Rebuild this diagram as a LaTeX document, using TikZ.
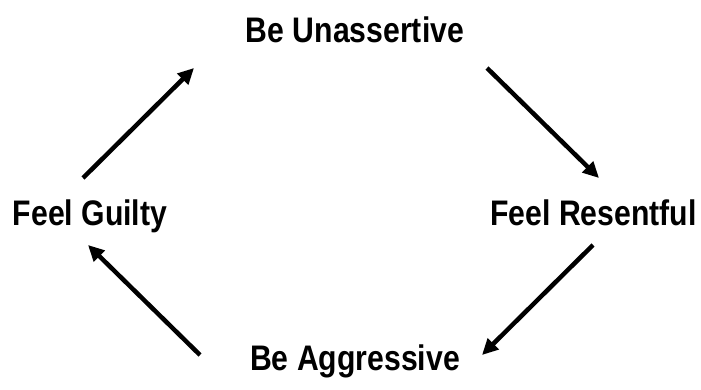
\documentclass[tikz,border=0pt]{standalone}
\usepackage{fontspec}
\newfontfamily\cyclefont[FakeStretch=0.85]{Liberation Sans}
\usepackage{tikz}
\usetikzlibrary{arrows.meta,positioning}
\tikzset{
  mood/.style={font=\cyclefont\bfseries\fontsize{35.5}{40}\selectfont, inner sep=0pt, anchor=base},
  cyc/.style={-{Triangle[length=16pt,width=15pt]}, line width=4.5pt}
}

\begin{document}
\begin{tikzpicture}[x=1pt,y=1pt]
\useasboundingbox (0,0) rectangle (701,389);
\node[mood] (unassertive) at (355,346) {Be Unassertive};
\node[mood] (resentful) at (593.5,164) {Feel Resentful};
\node[mood] (aggressive) at (355,19) {Be Aggressive};
\node[mood] (guilty) at (90,164) {Feel Guilty};
\draw[cyc] ([shift={(-7,47)}]guilty.base) -- ([shift={(-161,-25)}]unassertive.base);
\draw[cyc] ([shift={(132,-25)}]unassertive.base) -- ([shift={(5.5,47)}]resentful.base);
\draw[cyc] ([shift={(-0.5,-20)}]resentful.base) -- ([shift={(127,15)}]aggressive.base);
\draw[cyc] ([shift={(-155,15)}]aggressive.base) -- ([shift={(-2,-20)}]guilty.base);
\end{tikzpicture}
\end{document}
